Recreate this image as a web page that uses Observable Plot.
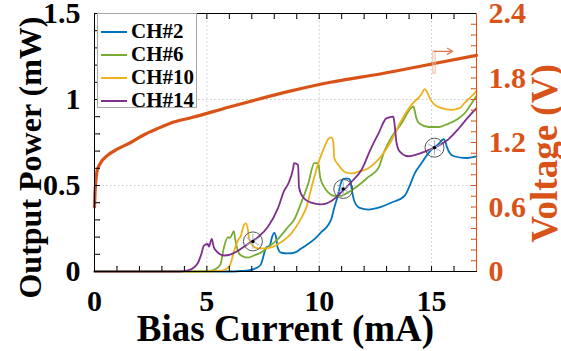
<!DOCTYPE html>
<html><head><meta charset="utf-8">
<script src="https://cdn.jsdelivr.net/npm/d3@7"></script>
<script src="https://cdn.jsdelivr.net/npm/@observablehq/plot@0.6"></script>
<style>
body{margin:0;background:#fff}
#wrap{position:relative;width:561px;height:351px;font-family:'Liberation Serif','Times New Roman',serif}
#legend{position:absolute;left:97px;top:13px;width:100px;height:95px;border:1px solid #a6a6a6;background:#fff;box-sizing:border-box}
.row{position:absolute;left:0;height:23px;display:flex;align-items:center}
.sw{width:26px;height:2px;margin-left:3px;margin-right:4px}
.lb{font-weight:bold;font-size:21px;color:#000;line-height:23px}
</style></head><body><div id="wrap"><div id="legend"></div></div>
<script>
const seriesNames = ["CH#2", "CH#6", "CH#10", "CH#14"];
const seriesColors = ["#0072BD", "#77AC30", "#EDB120", "#7E2F8E"];
const voltColor = "#D95319";

const ch2I = [0, 6.0, 6.5, 6.9, 7.2, 7.4, 7.5, 7.58, 7.65, 7.8, 7.9, 8.0, 8.08, 8.15, 8.3, 8.6, 8.9, 9.2, 9.5, 9.8, 10.1, 10.4, 10.55, 10.67, 10.85, 10.98, 11.12, 11.29, 11.38, 11.47, 11.56, 11.8, 12.2, 12.6, 13.2, 13.8, 14.0, 14.25, 14.55, 14.87, 15.1, 15.3, 15.54, 15.6, 15.67, 15.8, 16.0, 16.5, 17];
const ch2P = [0, 0, 0.003, 0.008, 0.02, 0.04, 0.08, 0.12, 0.14, 0.15, 0.2, 0.225, 0.2, 0.14, 0.11, 0.105, 0.11, 0.134, 0.16, 0.19, 0.23, 0.27, 0.31, 0.37, 0.45, 0.52, 0.54, 0.54, 0.53, 0.46, 0.41, 0.37, 0.36, 0.37, 0.40, 0.44, 0.49, 0.57, 0.63, 0.69, 0.72, 0.74, 0.77, 0.76, 0.73, 0.69, 0.67, 0.66, 0.67];

const ch6I = [0, 4.6, 5.0, 5.3, 5.6, 5.76, 5.94, 6.02, 6.1, 6.2, 6.26, 6.38, 6.52, 6.83, 7.1, 7.41, 7.72, 8.17, 8.62, 8.88, 9.2, 9.51, 9.78, 9.96, 10.04, 10.18, 10.4, 10.67, 10.98, 11.29, 11.74, 12.19, 12.63, 12.9, 13.21, 13.66, 14.02, 14.2, 14.24, 14.33, 14.46, 14.87, 15.31, 15.76, 16.2, 16.47, 16.79, 17];
const ch6P = [0, 0, 0.002, 0.008, 0.04, 0.14, 0.2, 0.195, 0.21, 0.235, 0.19, 0.12, 0.093, 0.081, 0.093, 0.11, 0.14, 0.19, 0.26, 0.30, 0.40, 0.51, 0.63, 0.63, 0.55, 0.50, 0.46, 0.44, 0.44, 0.46, 0.50, 0.55, 0.60, 0.70, 0.78, 0.86, 0.94, 0.96, 0.94, 0.89, 0.86, 0.84, 0.84, 0.86, 0.89, 0.92, 0.98, 1.02];

const ch10I = [0, 5.0, 5.5, 5.8, 6.0, 6.1, 6.21, 6.38, 6.52, 6.65, 6.74, 6.83, 6.88, 7.05, 7.28, 7.54, 7.86, 8.3, 8.75, 9.2, 9.42, 9.64, 9.96, 10.22, 10.4, 10.54, 10.63, 10.67, 10.85, 11.12, 11.43, 11.74, 12.19, 12.63, 13.21, 13.66, 14.11, 14.55, 14.69, 14.78, 14.91, 15.13, 15.45, 15.89, 16.25, 16.47, 16.79, 17];
const ch10P = [0, 0, 0.003, 0.01, 0.03, 0.064, 0.12, 0.18, 0.21, 0.27, 0.28, 0.24, 0.19, 0.15, 0.134, 0.134, 0.14, 0.17, 0.22, 0.31, 0.37, 0.48, 0.63, 0.72, 0.77, 0.78, 0.75, 0.66, 0.62, 0.58, 0.57, 0.58, 0.60, 0.65, 0.76, 0.88, 0.97, 1.03, 1.06, 1.05, 1.01, 0.97, 0.95, 0.94, 0.95, 0.98, 1.02, 1.05];

const ch14I = [0, 3.8, 4.2, 4.6, 4.75, 4.87, 5.04, 5.09, 5.22, 5.31, 5.49, 5.76, 6.07, 6.38, 6.83, 7.28, 7.72, 8.17, 8.44, 8.62, 8.84, 8.88, 9.06, 9.1, 9.29, 9.64, 10.09, 10.54, 10.98, 11.43, 11.88, 12.32, 12.63, 12.99, 13.3, 13.35, 13.44, 13.57, 13.97, 14.55, 15.13, 15.76, 16.2, 16.65, 17];
const ch14P = [0, 0, 0.008, 0.05, 0.1, 0.15, 0.16, 0.145, 0.19, 0.14, 0.11, 0.093, 0.10, 0.12, 0.16, 0.20, 0.26, 0.37, 0.47, 0.51, 0.60, 0.63, 0.62, 0.49, 0.43, 0.40, 0.39, 0.41, 0.46, 0.52, 0.59, 0.72, 0.80, 0.89, 0.90, 0.86, 0.75, 0.70, 0.67, 0.69, 0.72, 0.77, 0.83, 0.90, 0.95];

const voltI = [0, 0.02, 0.05, 0.12, 0.27, 0.58, 1.03, 1.61, 2.19, 2.81, 3.53, 4.29, 6, 8.75, 10.5, 12.77, 15, 17];
const voltV = [0.6, 0.72, 0.82, 0.94, 1.01, 1.08, 1.14, 1.2, 1.27, 1.33, 1.39, 1.43, 1.53, 1.68, 1.76, 1.84, 1.93, 2.01];

const markerI = [7.05, 11.07, 15.13];
const markerP = [0.175, 0.48, 0.72];

const noteArrowI = [15.13, 15.94];
const noteArrowP = [1.28, 1.28];
const noteRectI = [15.08, 15.18];
const noteRectP = [1.15, 1.28];

const xTickLabels = [0, 5, 10, 15];
const yTickLabels = [0, 0.5, 1, 1.5];
const vTickLabels = [0, 0.6, 1.2, 1.8, 2.4];
const xTitle = "Bias Current (mA)";
const yTitle = "Output Power (mW)";
const vTitle = "Voltage (V)";

const iMax = 17, pMax = 1.5, vMax = 2.4;
const k = pMax / vMax;

const seriesI = [ch2I, ch6I, ch10I, ch14I];
const seriesP = [ch2P, ch6P, ch10P, ch14P];
const rows = [];
seriesNames.forEach((name, s) => seriesI[s].forEach((I, j) => rows.push({name, I, P: seriesP[s][j]})));
const volt = voltI.map((I, j) => ({I, V: voltV[j]}));
const markers = markerI.map((I, j) => ({I, P: markerP[j]}));

const xMinor = d3.range(0, iMax + 1);
const yMinor = d3.range(0, 16).map(i => i / 10);
const vMinor = d3.range(0, 25).map(i => (i / 10) * k);

const FONT = "'Liberation Serif','Times New Roman',serif";
const tick = (data, o) => Plot.vector(data, {length: 5, r: 0, anchor: "start", strokeWidth: 1, ...o});

const chart = Plot.plot({
  width: 561, height: 351,
  marginLeft: 94, marginRight: 85, marginTop: 13, marginBottom: 80,
  x: {domain: [0, iMax]},
  y: {domain: [0, pMax]},
  color: {domain: seriesNames, range: seriesColors},
  style: {fontFamily: FONT, background: "white"},
  marks: [
    Plot.gridX(xTickLabels.slice(1), {stroke: "#c8c8c8", strokeOpacity: 1, strokeDasharray: "1.5,2.5"}),
    Plot.gridY(yTickLabels.slice(1, -1), {stroke: "#c8c8c8", strokeOpacity: 1, strokeDasharray: "1.5,2.5"}),
    Plot.line(volt, {x: "I", y: d => d.V * k, stroke: voltColor, strokeWidth: 3.2, curve: "monotone-x"}),
    Plot.line(rows, {x: "I", y: "P", z: "name", stroke: "name", strokeWidth: 1.8, curve: "monotone-x"}),
    Plot.rect([0], {x1: () => noteRectI[0], x2: () => noteRectI[1], y1: () => noteRectP[0], y2: () => noteRectP[1], fill: "none", stroke: "#f2b8a2", strokeWidth: 1}),
    Plot.arrow([0], {x1: () => noteArrowI[0], x2: () => noteArrowI[1], y1: () => noteArrowP[0], y2: () => noteArrowP[1], stroke: "#e27a4e", strokeWidth: 1.2, headLength: 8}),
    Plot.dot(markers, {x: "I", y: "P", r: 9.5, stroke: "#555", strokeWidth: 1, fill: "none"}),
    Plot.dot(markers, {x: "I", y: "P", r: 7, symbol: "asterisk", stroke: "#9fb2c8", strokeWidth: 1}),
    Plot.dot(markers, {x: "I", y: "P", r: 1.7, fill: "black"}),
    tick(xMinor, {x: d => d, y: () => 0, rotate: 0, stroke: "black"}),
    tick(xMinor, {x: d => d, y: () => pMax, rotate: 180, stroke: "black"}),
    tick(yMinor, {x: () => 0, y: d => d, rotate: 90, stroke: "black"}),
    tick(vMinor, {x: () => iMax, y: d => d, rotate: -90, stroke: voltColor}),
    Plot.frame({stroke: "black", strokeWidth: 1}),
    Plot.ruleX([iMax], {stroke: voltColor, strokeWidth: 1}),
    Plot.axisX(xTickLabels, {anchor: "bottom", tickSize: 0, tickPadding: 18, fontSize: 30, fontWeight: "bold", label: null}),
    Plot.axisY(yTickLabels, {anchor: "left", tickSize: 0, tickPadding: 14, fontSize: 30, fontWeight: "bold", label: null, tickFormat: d => String(d)}),
    Plot.axisY(vTickLabels.map(v => v * k), {anchor: "right", tickSize: 0, tickPadding: 12, fontSize: 30, fontWeight: "bold", color: voltColor, label: null, tickFormat: d => String(Math.round(d / k * 10) / 10)}),
    Plot.text([xTitle], {frameAnchor: "bottom", dy: 58, lineAnchor: "middle", textAnchor: "middle", fontSize: 37, fontWeight: "bold", fill: "black"}),
    Plot.text([yTitle], {frameAnchor: "left", dx: -64, dy: 15, rotate: -90, lineAnchor: "middle", textAnchor: "middle", fontSize: 32, fontWeight: "bold", fill: "black"}),
    Plot.text([vTitle], {frameAnchor: "right", dx: 69, dy: 11, rotate: -90, lineAnchor: "middle", textAnchor: "middle", fontSize: 37, fontWeight: "bold", fill: voltColor})
  ]
});
const wrap = document.getElementById("wrap");
wrap.insertBefore(chart, wrap.firstChild);

const legend = document.getElementById("legend");
seriesNames.forEach((name, i) => {
  const row = document.createElement("div");
  row.className = "row";
  row.style.top = (6 + 23 * i) + "px";
  const sw = document.createElement("div");
  sw.className = "sw";
  sw.style.background = seriesColors[i];
  const lb = document.createElement("span");
  lb.className = "lb";
  lb.textContent = name;
  row.appendChild(sw); row.appendChild(lb);
  legend.appendChild(row);
});
</script></body></html>
